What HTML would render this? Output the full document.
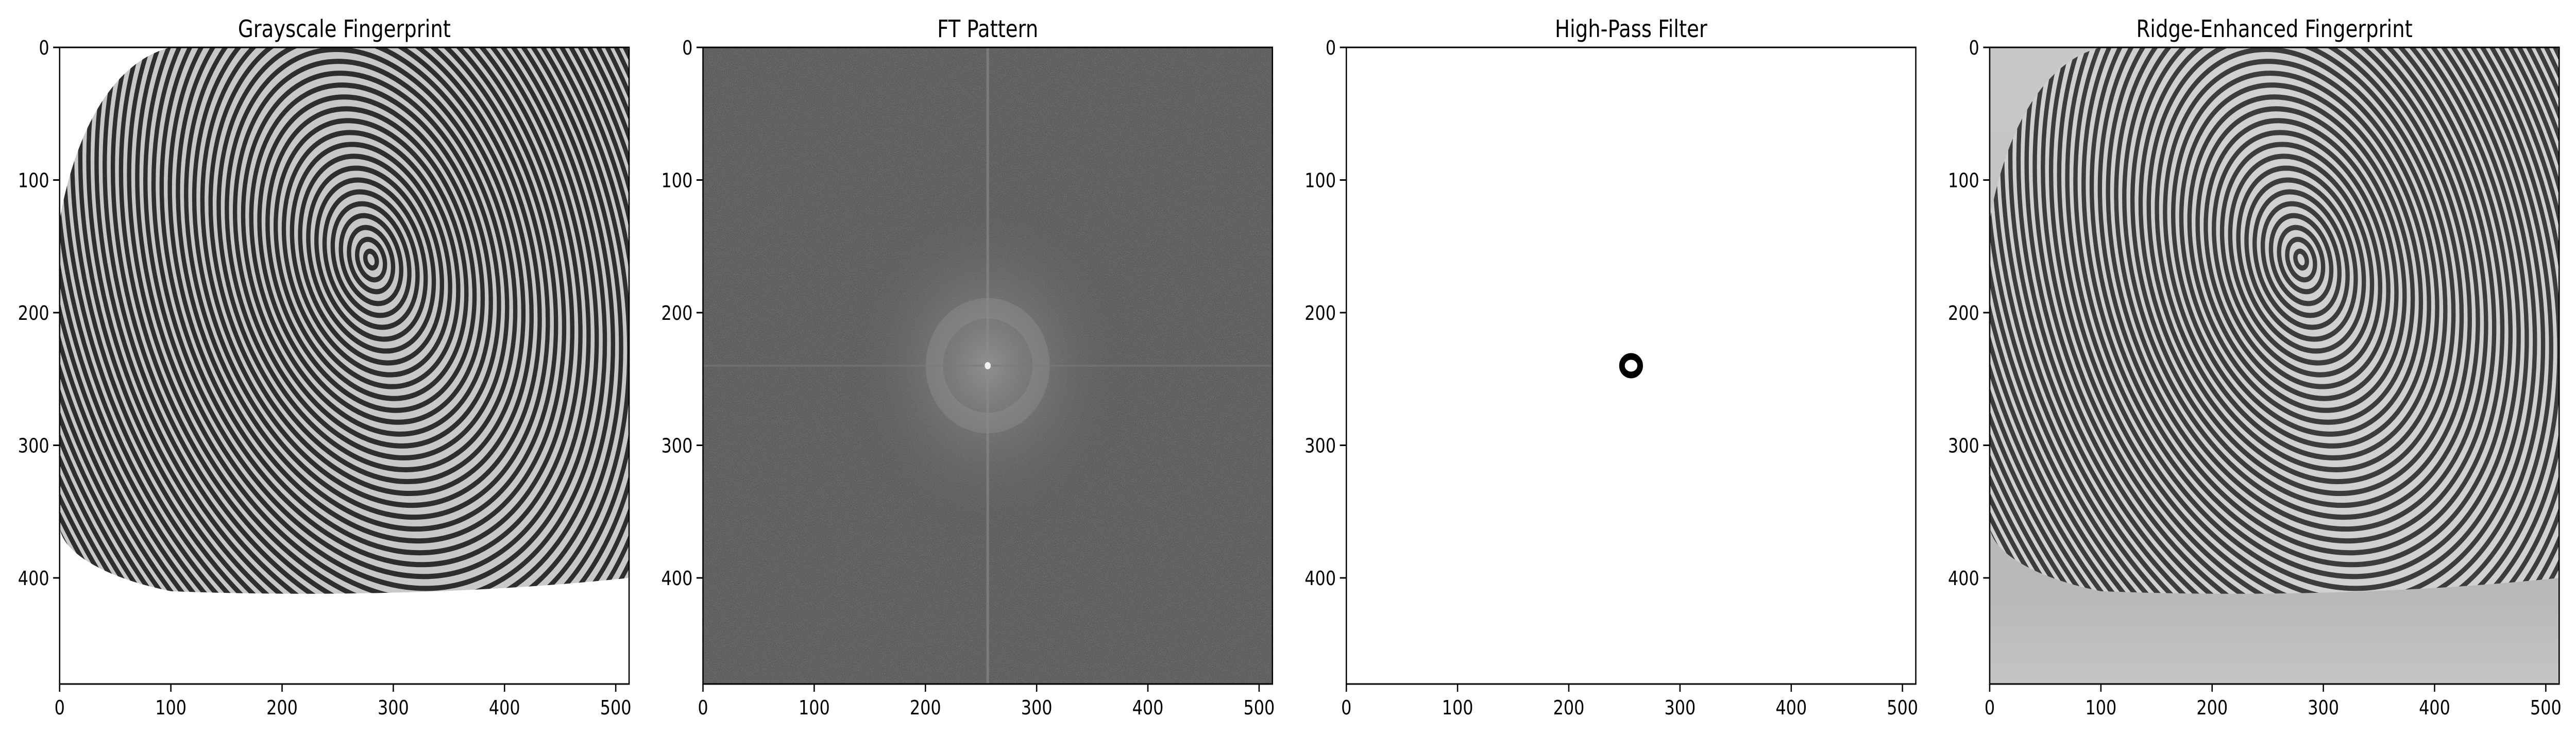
<!DOCTYPE html>
<html><head><meta charset="utf-8"><style>
html,body{margin:0;padding:0;background:#fff;overflow:hidden;width:100%;height:100%;}
svg{position:fixed;left:0;top:0;width:100vw;height:100vh;display:block;font-family:"DejaVu Sans","Liberation Sans",sans-serif;}
</style></head><body>
<svg id="fig" viewBox="0 0 5962 1427" preserveAspectRatio="none" xmlns="http://www.w3.org/2000/svg">
<defs>
  <filter id="noise" x="0" y="0" width="100%" height="100%">
    <feTurbulence type="fractalNoise" baseFrequency="0.6" numOctaves="2" seed="3"/>
    <feColorMatrix type="matrix" values="0 0 0 0 0.33  0 0 0 0 0.33  0 0 0 0 0.33  0 0 0 -0.9 0.55"/>
  </filter>
  <radialGradient id="ftglow" cx="0.5" cy="0.5" r="0.5">
    <stop offset="0" stop-color="#9a9a9a" stop-opacity="0.8"/>
    <stop offset="0.4" stop-color="#808080" stop-opacity="0.5"/>
    <stop offset="1" stop-color="#5a5a5a" stop-opacity="0"/>
  </radialGradient>
  <linearGradient id="bg4" x1="0" y1="0" x2="0" y2="1">
    <stop offset="0" stop-color="#c8c8c8"/>
    <stop offset="0.85" stop-color="#b8b8b8"/>
    <stop offset="1" stop-color="#c4c4c4"/>
  </linearGradient>
</defs>
<g id="panels"></g>
</svg>
<script>
const NS = "http://www.w3.org/2000/svg";
const titles = ["Grayscale Fingerprint","FT Pattern","High-Pass Filter","Ridge-Enhanced Fingerprint"];
const xTicks = [0,100,200,300,400,500];
const yTicks = [0,100,200,300,400];
const imgW = 512, imgH = 480;
const ringCenter = [256,240];
const ringRadius = [7];
const ftRingRadius = [48];
const fpCore = [280,160];

const panelLeft = [138,1627,3116,4605];
const axTop = 92, axW = 1318, axH = 1236;
const root = document.getElementById('panels');

function mk(tag, attrs, parent){
  const e = document.createElementNS(NS, tag);
  for (const k in attrs) e.setAttribute(k, attrs[k]);
  (parent||root).appendChild(e);
  return e;
}

function drawFingerprint(g, sx, sy, light, clipId){
  const rg = mk('g',{'clip-path':'url(#'+clipId+')'},g);
  
  
  for (let r = 6; r < 620; r += 8.5) {
    mk('ellipse',{cx:sx(fpCore[0]),cy:sy(fpCore[1]),rx:(r*0.8)*axW/imgW,ry:(r*1.1)*axH/imgH,
      transform:'rotate(-25 '+sx(fpCore[0])+' '+sy(fpCore[1])+')',
      fill:'none',stroke:light?'#3c3c3c':'#2e2e2e','stroke-width':10},rg);
  }
}

panelLeft.forEach((L, i) => {
  const g = mk('g',{});
  
  
  const sx = v => L + v*axW/imgW;
  const sy = v => axTop + v*axH/imgH;
  const clipId = 'clip'+i;
  const defs = document.querySelector('defs');
  const cp = mk('clipPath',{id:clipId},defs);
  mk('path',{d:'M'+sx(0)+' '+sy(130)+' C '+sx(15)+' '+sy(60)+' '+sx(50)+' '+sy(10)+' '+sx(100)+' '+sy(0)+
    ' L '+sx(512)+' '+sy(0)+' L '+sx(512)+' '+sy(400)+' C '+sx(400)+' '+sy(410)+' '+sx(250)+' '+sy(415)+' '+sx(100)+' '+sy(410)+
    ' C '+sx(40)+' '+sy(400)+' '+sx(0)+' '+sy(380)+' '+sx(0)+' '+sy(360)+' Z'},cp);

  if (i === 0) {
    mk('rect',{x:L,y:axTop,width:axW,height:axH,fill:'#ffffff'},g);
    mk('rect',{x:L,y:axTop,width:axW,height:axH,fill:'#c8c8c8','clip-path':'url(#'+clipId+')'},g);
    drawFingerprint(g,sx,sy,false,clipId);
  } else if (i === 1) {
    mk('rect',{x:L,y:axTop,width:axW,height:axH,fill:'#5b5b5b'},g);
    mk('rect',{x:L,y:axTop,width:axW,height:axH,filter:'url(#noise)'},g);
    const glow = mk('ellipse',{cx:sx(ringCenter[0]),cy:sy(ringCenter[1]),rx:sx(130)-sx(0),ry:sy(130)-sy(0),fill:'url(#ftglow)'},g);
    
    
    const ring = mk('ellipse',{cx:sx(ringCenter[0]),cy:sy(ringCenter[1]),rx:sx(ftRingRadius[0])-sx(0),ry:sy(ftRingRadius[0]*0.9)-sy(0),fill:'none',stroke:'#9a9a9a','stroke-width':40,'stroke-opacity':0.3},g);
    
    
    mk('line',{x1:sx(ringCenter[0]),y1:axTop,x2:sx(ringCenter[0]),y2:axTop+axH,stroke:'#8c8c8c','stroke-width':6,'stroke-opacity':0.6},g);
    mk('line',{x1:L,y1:sy(ringCenter[1]),x2:L+axW,y2:sy(ringCenter[1]),stroke:'#7a7a7a','stroke-width':4,'stroke-opacity':0.5},g);
    mk('circle',{cx:sx(ringCenter[0]),cy:sy(ringCenter[1]),r:7,fill:'#f0f0f0'},g);
  } else if (i === 2) {
    mk('rect',{x:L,y:axTop,width:axW,height:axH,fill:'#ffffff'},g);
    const dot = mk('ellipse',{cx:sx(ringCenter[0]),cy:sy(ringCenter[1]),rx:sx(ringRadius[0])-sx(0)+3,ry:sy(ringRadius[0])-sy(0),fill:'none',stroke:'#000','stroke-width':13},g);
    
    
  } else {
    mk('rect',{x:L,y:axTop,width:axW,height:axH,fill:'url(#bg4)'},g);
    mk('rect',{x:L,y:axTop,width:axW,height:axH,fill:'#d0d0d0','clip-path':'url(#'+clipId+')'},g);
    drawFingerprint(g,sx,sy,true,clipId);
  }

  const fr = mk('rect',{x:L,y:axTop,width:axW,height:axH,fill:'none',stroke:'#000','stroke-width':3},g);
  
  

  const t = mk('text',{x:L+axW/2,y:72,'text-anchor':'middle','font-size':46,fill:'#000'},g);
  t.textContent = titles[i];
  
  

  xTicks.forEach(v => {
    mk('line',{x1:sx(v),y1:axTop+axH,x2:sx(v),y2:axTop+axH+15,stroke:'#000','stroke-width':3},g);
    const tl = mk('text',{x:sx(v),y:1387,'text-anchor':'middle','font-size':38,fill:'#000'},g);
    tl.textContent = v;
    
    
  });
  yTicks.forEach(v => {
    mk('line',{x1:L-15,y1:sy(v),x2:L,y2:sy(v),stroke:'#000','stroke-width':3},g);
    const tl = mk('text',{x:L-24,y:sy(v)+14,'text-anchor':'end','font-size':38,fill:'#000'},g);
    tl.textContent = v;
    
    
  });
});
</script>
</body></html>
